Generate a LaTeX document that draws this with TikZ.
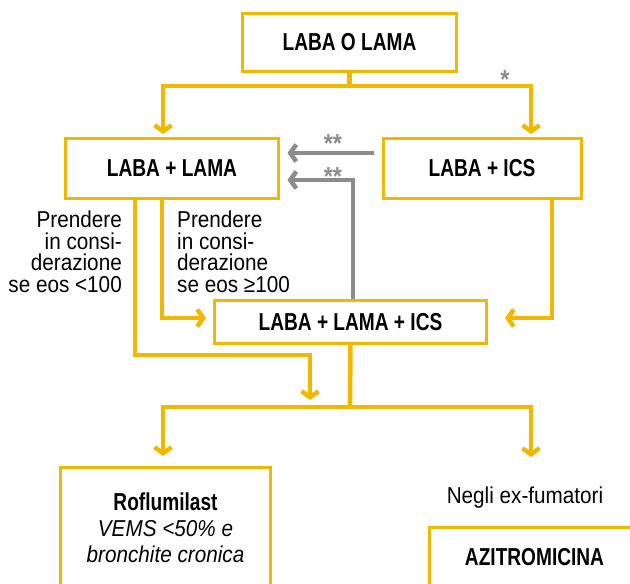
\documentclass[tikz,border=0pt]{standalone}
\usepackage{fontspec}
\setmainfont{Liberation Sans}[FakeStretch=0.9]
\newfontfamily\condf{Liberation Sans}[FakeStretch=0.78]
\usetikzlibrary{arrows.meta}
\definecolor{ygold}{HTML}{F2B700}
\definecolor{ggray}{HTML}{8C8C8C}
\pgfdeclarelayer{bg}
\pgfsetlayers{bg,main}
\begin{document}
\begin{tikzpicture}[x=1pt,y=-1pt,
  box/.style={draw=ygold, line width=3pt, fill=white, inner sep=0pt,
    font=\condf\bfseries\fontsize{24.5}{26}\selectfont, align=center},
  yl/.style={draw=ygold, line width=4.5pt},
  gl/.style={draw=ggray, line width=4.5pt},
  chev/.style={-{Straight Barb[length=6pt,width=17pt]}},
  note/.style={font=\fontsize{23}{21.5}\selectfont, inner sep=0pt},
  star/.style={text=ggray, font=\bfseries\fontsize{26}{26}\selectfont, inner sep=0pt}
]
\clip (0,0) rectangle (630,584);
\begin{pgfonlayer}{bg}
\fill[white] (0,0) rectangle (630,584);
\end{pgfonlayer}
% boxes
\node[box, minimum width=214pt, minimum height=58pt] (top) at (349.5,42.5) {LABA O LAMA};
\node[box, minimum width=213pt, minimum height=60pt] (ll) at (172,168.5) {LABA + LAMA};
\node[box, minimum width=198pt, minimum height=60pt] (li) at (482,168.5) {LABA + ICS};
\node[box, minimum width=272pt, minimum height=43pt] (lli) at (350.5,322) {LABA + LAMA + ICS};
\node[box, minimum width=210pt, minimum height=121pt] (rof) at (165.5,528)
  {Roflumilast\\
   {\normalfont\itshape\fontsize{23}{26}\selectfont VEMS <50\% e}\\
   {\normalfont\itshape\fontsize{23}{26}\selectfont bronchite cronica}};
\node[box, minimum width=210pt, minimum height=59pt] (azi) at (534.5,557) {AZITROMICINA};
% texts
\node[note, anchor=base] (negli) at (525,503) {Negli ex-fumatori};
\node[note, align=right, anchor=north east] (n1) at (122,211) {Prendere\\in consi-\\derazione\\se eos <100};
\node[note, align=left, anchor=north west] (n2) at (177,211) {Prendere\\in consi-\\derazione\\se eos ≥100};
\node[star, anchor=north] (s1) at (505,70) {*};
\node[star, anchor=north] (s2) at (333,134) {**};
\node[star, anchor=north] (s3) at (333,167) {**};
% junctions
\coordinate (j1) at (349.5,86);
\coordinate (j2) at (350,407);
\coordinate (m1) at (310,400);
\coordinate (m2) at (531,457);
\begin{pgfonlayer}{bg}
\draw[yl] (top.south) -- (j1);
\draw[yl,chev] (j1) -| ([xshift=-9pt,yshift=3pt]ll.north);
\draw[yl,chev] (j1) -| ([xshift=49pt,yshift=3pt]li.north);
\draw[gl,chev] ([xshift=-7.5pt,yshift=15.5pt]li.west) -- ([xshift=7.5pt,yshift=15.5pt]ll.east);
\draw[gl,chev] ([xshift=2.5pt]lli.north) |- ([xshift=7.5pt,yshift=-11.5pt]ll.east);
\draw[yl,chev] ([xshift=-37pt]ll.south) |- (310,355) -- (m1);
\draw[yl,chev] ([xshift=-10pt]ll.south) |- ([xshift=-7pt,yshift=4pt]lli.west);
\draw[yl,chev] ([xshift=70pt]li.south) |- ([xshift=17pt,yshift=4pt]lli.east);
\draw[yl] (lli.south) -- (j2);
\draw[yl,chev] (j2) -| ([xshift=-2.5pt,yshift=10pt]rof.north);
\draw[yl,chev] (j2) -| (m2);
\end{pgfonlayer}
\end{tikzpicture}
\end{document}
